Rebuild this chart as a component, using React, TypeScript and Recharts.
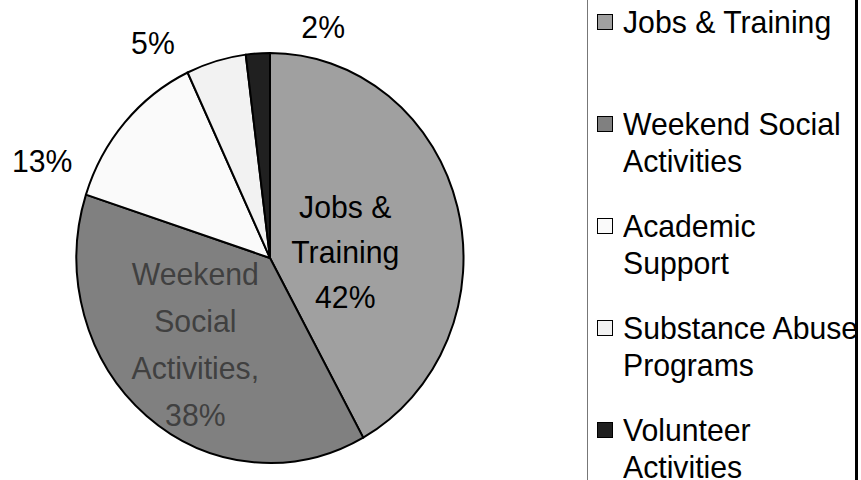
import React from 'react';
import { PieChart, Pie, Cell, Legend } from 'recharts';

const categories = ['Jobs & Training', 'Weekend Social Activities', 'Academic Support', 'Substance Abuse Programs', 'Volunteer Activities'];
const shares = [42, 38, 13, 5, 2];
const sliceColors = ['#a0a0a0', '#808080', '#fafafa', '#f2f2f2', '#202020'];
const sliceLabels = [['Jobs &', 'Training', '42%'], ['Weekend', 'Social', 'Activities,', '38%'], ['13%'], ['5%'], ['2%']];
const labelColors = ['#000', '#404040', '#000', '#000', '#000'];
const legendLines = [['Jobs & Training'], ['Weekend Social', 'Activities'], ['Academic', 'Support'], ['Substance Abuse', 'Programs'], ['Volunteer', 'Activities']];
// label placement: [radius factor, angle shift in degrees]
const labelPlacement: [number, number][] = [[0.39, -10], [0.57, -3], [1.27, 19.4], [1.21, 13.8], [1.16, -17.3]];

const data = categories.map((name, i) => ({ name, value: shares[i] }));

const FONT = '"Liberation Sans", Arial, sans-serif';
const ASPECT = 0.944;
const RAD = Math.PI / 180;

function EllipseSector(p: any) {
  const { cx, cy, outerRadius, startAngle, endAngle, fill } = p;
  const rx = outerRadius * ASPECT;
  const ry = outerRadius;
  const pt = (a: number) => [cx + rx * Math.cos(a * RAD), cy - ry * Math.sin(a * RAD)];
  const [x0, y0] = pt(startAngle);
  const [x1, y1] = pt(endAngle);
  const span = Math.abs(endAngle - startAngle);
  const large = span > 180 ? 1 : 0;
  const sweep = endAngle < startAngle ? 1 : 0;
  const d = `M ${cx} ${cy} L ${x0} ${y0} A ${rx} ${ry} 0 ${large} ${sweep} ${x1} ${y1} Z`;
  return <path d={d} fill={fill} stroke="#000" strokeWidth={2} strokeLinejoin="round" />;
}

function renderLabel(p: any) {
  const { cx, cy, midAngle, outerRadius, index } = p;
  const [f, shift] = labelPlacement[index];
  const a = (midAngle + shift) * RAD;
  const x = cx + f * outerRadius * ASPECT * Math.cos(a);
  const y = cy - f * outerRadius * Math.sin(a);
  const lines = sliceLabels[index];
  const lh = index === 1 ? 47 : 45;
  const y0 = y - ((lines.length - 1) / 2) * lh;
  return (
    <text key={`lbl-${index}`} transform={`translate(${x},${y0}) scale(${ASPECT},1)`} x={0} y={0} textAnchor="middle" dominantBaseline="central" fill={labelColors[index]} fontFamily={FONT} fontSize={32}>
      {lines.map((l, j) => (
        <tspan key={j} x={0} y={j * lh} dominantBaseline="central">{l}</tspan>
      ))}
    </text>
  );
}

function LegendBox(props: any) {
  const payload = props.payload || [];
  return (
    <div style={{ position: 'absolute', left: 587, top: -10, width: 271, height: 500, borderLeft: '1.5px solid #777', borderRight: '3px solid #000', boxSizing: 'border-box', overflow: 'hidden', fontFamily: FONT }}>
      {payload.map((entry: any, i: number) => {
        const top = 32 + i * 102;
        return (
          <div key={i} style={{ position: 'absolute', left: 0, top: top - 18, width: 270 }}>
            <div style={{ position: 'absolute', left: 9, top: 18 - 8, width: 14, height: 14, background: sliceColors[i], border: '1.5px solid #000' }} />
            {legendLines[i].map((l, j) => (
              <div key={j} style={{ position: 'absolute', left: 35, top: j * 37 + 5, height: 26, lineHeight: '26px', fontSize: 32, color: '#000', whiteSpace: 'nowrap', transform: `scaleX(${ASPECT})`, transformOrigin: '0 50%' }}>{l}</div>
            ))}
          </div>
        );
      })}
    </div>
  );
}

export default function App() {
  return (
    <div style={{ position: 'fixed', left: 0, top: 0, width: 861, height: 480, background: '#fff', overflow: 'hidden' }}>
      <PieChart width={861} height={480} margin={{ top: 0, right: 0, bottom: 0, left: 0 }}>
        <Pie
          data={data}
          dataKey="value"
          nameKey="name"
          cx={270}
          cy={258}
          outerRadius={205}
          startAngle={90}
          endAngle={-270}
          stroke="#000"
          strokeWidth={2}
          isAnimationActive={false}
          labelLine={false}
          label={renderLabel}
          shape={EllipseSector}
          activeShape={EllipseSector}
          inactiveShape={EllipseSector}
        >
          {data.map((d, i) => (
            <Cell key={d.name} fill={sliceColors[i]} />
          ))}
        </Pie>
        <Legend content={LegendBox} wrapperStyle={{ position: 'absolute', left: 0, top: 0, width: 861, height: 480 }} />
      </PieChart>
    </div>
  );
}
